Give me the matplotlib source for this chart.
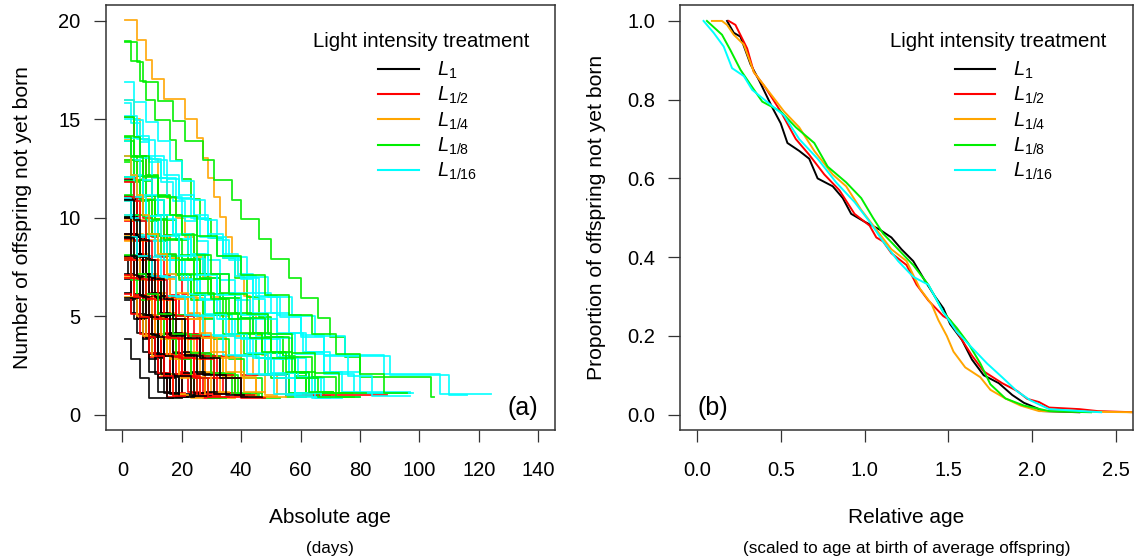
import numpy as np
import matplotlib
matplotlib.use("Agg")
import matplotlib.pyplot as plt

plt.rcParams['font.family'] = ['Liberation Sans', 'DejaVu Sans']
plt.rcParams['mathtext.fontset'] = 'custom'
plt.rcParams['mathtext.rm'] = 'Liberation Sans'
plt.rcParams['mathtext.it'] = 'Liberation Sans:italic'

# ---- data -------------------------------------------------------------
treatments = ['$L_{1}$', '$L_{1/2}$', '$L_{1/4}$', '$L_{1/8}$', '$L_{1/16}$']
colors = ['black', '#FF0000', '#FFA500', '#00EE00', '#00FFFF']
start_age = 1

# (a) ages (days) at each birth, one list per mother
births_L1 = [
    [3, 6, 9, 17],
    [3, 5, 7, 9, 12, 16],
    [4, 6, 8, 10, 13, 15, 19],
    [2, 4, 5, 7, 9, 11, 14, 18],
    [4, 5, 7, 9, 11, 13, 16, 19, 23],
    [3, 5, 6, 8, 10, 12, 14, 17, 20, 26],
    [5, 6, 8, 10, 11, 13, 15, 18, 21, 24, 29],
    [4, 5, 6, 8, 10, 11, 13, 15, 18, 20, 23, 27],
    [3, 5, 8, 11, 14, 18, 22],
    [4, 7, 9, 12, 15, 20],
    [5, 7, 10, 13, 16, 20, 23, 28, 32],
    [3, 4, 6, 7, 9, 12, 14, 17, 20, 24, 30],
    [4, 6, 7, 9, 11, 14, 16, 19],
    [5, 8, 10, 13, 15, 18, 21, 25, 31, 36],
    [3, 6, 8, 11, 13, 16, 21, 27, 35, 41],
    [4, 5, 7, 9, 12, 14, 17, 23, 30],
    [6, 9, 12, 14, 19, 24],
    [3, 5, 6, 8, 10, 12, 13, 16, 19],
    [4, 6, 9, 11, 14, 17, 21, 26, 33, 40, 47],
]
births_L2 = [
    [4, 6, 8, 10, 12, 14, 16, 18, 20, 22, 24, 27, 30, 34, 38],
    [4, 7, 9, 11, 14, 16, 19, 22, 25, 28, 32, 37],
    [3, 5, 8, 10, 13, 15, 18, 21, 24, 29],
    [5, 7, 10, 12, 15, 18, 22, 26, 30, 40, 55, 89],
    [4, 6, 9, 11, 13, 16, 20, 24],
    [3, 5, 7, 9, 12, 15, 19],
    [6, 8, 11, 14, 17, 21, 25, 31, 42],
    [4, 6, 8, 11, 13, 17, 20, 23, 27, 33],
    [5, 7, 9, 12, 14, 17, 19, 22, 26],
    [3, 6, 9, 12, 16, 21],
    [4, 8, 10, 13, 18, 23, 28],
    [5, 6, 8, 10, 12, 14, 17, 20, 24, 28, 35],
    [4, 7, 10, 14, 18, 22, 27, 32, 38, 45],
    [6, 9, 13, 16, 20, 26, 33],
    [3, 5, 7, 10, 13, 16, 20, 25, 30],
    [5, 8, 11, 15, 19, 24, 29, 36],
    [4, 6, 8, 10, 12, 15, 18, 22, 26, 31, 40, 48],
    [3, 4, 6, 9, 11, 14, 17, 21],
]
births_L4 = [
    [5, 8, 10, 14, 21, 25, 27, 29, 31, 33, 35, 37, 39, 41, 43, 45, 47, 49, 52, 56],
    [4, 6, 9, 12, 15, 18, 21, 24, 27, 30, 33, 36, 40, 44, 48, 52],
    [3, 6, 8, 11, 13, 16, 19, 22, 25, 28, 31, 34, 38, 42],
    [5, 7, 10, 13, 16, 19, 23, 27, 31, 35, 40, 45, 50],
    [4, 6, 9, 12, 15, 18, 22, 26, 30, 34, 40, 55],
    [3, 5, 8, 10, 13, 16, 20, 24, 28, 33, 38],
    [4, 7, 9, 12, 15, 18, 22, 26, 31, 36],
    [5, 8, 11, 14, 17, 21, 25, 30, 35],
    [3, 6, 9, 12, 15, 19, 24, 29],
    [4, 6, 8, 11, 14, 17, 21],
    [5, 7, 10, 13, 17, 22],
    [4, 7, 11, 15, 20, 26, 33],
    [3, 5, 8, 11, 14, 18, 23, 28, 34],
    [6, 9, 12, 16, 21, 27, 32, 38, 45, 52],
    [4, 6, 8, 10, 13, 16, 19, 23, 27],
    [3, 5, 7, 9, 12, 15, 18, 22, 26, 30, 35, 41, 48],
]
births_L8 = [
    [3, 6, 8, 11, 16, 18, 20, 23, 26, 30, 34, 38, 42, 46, 50, 54, 58, 62, 70],
    [5, 7, 12, 17, 21, 27, 31, 37, 40, 46, 50, 56, 60, 66, 70, 75, 80, 104, 105],
    [4, 7, 10, 14, 18, 22, 26, 30, 35, 40, 45, 50, 55, 62],
    [3, 6, 9, 12, 15, 19, 23, 27, 31, 36, 41, 47, 53],
    [4, 8, 12, 16, 20, 24, 28, 33, 38, 44, 50, 57, 65, 71],
    [5, 8, 11, 15, 19, 24, 29, 34, 40, 47, 54, 62, 97],
    [3, 7, 10, 14, 18, 23, 28, 34, 41, 48, 56, 94],
    [4, 6, 9, 13, 17, 21, 26, 31, 37, 43],
    [5, 9, 13, 17, 22, 27, 33, 39, 46],
    [3, 5, 8, 12, 16, 20, 25, 31],
    [4, 7, 11, 15, 20, 26, 33, 40, 48, 56, 64, 72, 80],
    [6, 10, 14, 19, 24, 30, 36, 43, 50, 58, 66, 78],
    [3, 6, 10, 14, 18, 23, 29, 35],
    [4, 8, 13, 18, 24, 31, 39, 47, 55, 63, 71],
    [5, 8, 12, 17, 23, 30, 38, 47],
    [3, 7, 12, 18, 25, 32, 40, 48, 56, 64, 72, 80, 88, 96],
    [4, 6, 9, 12, 16, 20, 25, 30, 36, 42, 49, 57, 65, 73, 82],
]
births_L16 = [
    [4, 8, 12, 16, 20, 24, 28, 32, 36, 40, 44, 48, 52, 57, 62, 68, 80],
    [3, 6, 9, 13, 17, 21, 25, 29, 33, 38, 43, 48, 53, 58, 64, 70],
    [5, 9, 14, 19, 24, 29, 34, 39, 44, 50, 56, 62, 68, 74, 80],
    [4, 8, 12, 17, 22, 27, 32, 38, 44, 50, 56, 63, 70],
    [3, 7, 11, 15, 20, 25, 31, 37, 43, 49, 56, 63],
    [6, 10, 15, 20, 26, 32, 38, 45, 52, 60, 68, 88, 107, 124],
    [5, 9, 13, 18, 23, 29, 35, 42, 49, 57, 65, 75, 90, 110, 116],
    [4, 7, 11, 15, 19, 24, 29, 34, 40, 46, 53, 60, 68, 76, 84, 97],
    [3, 6, 10, 14, 18, 23, 28, 33, 39, 45, 52, 59, 67, 75],
    [5, 8, 12, 16, 21, 26, 32, 38, 44, 51, 58, 66],
    [4, 9, 14, 20, 26, 33, 40, 48, 56, 65, 74],
    [3, 7, 12, 17, 23, 29, 36, 44, 52, 61, 70, 80, 97],
    [6, 11, 16, 22, 28, 35, 42, 50, 58, 67],
    [4, 8, 13, 19, 25, 32, 40, 49, 58, 68, 78, 98],
    [5, 10, 15, 21, 27, 34, 42, 51, 60],
    [3, 6, 9, 13, 18, 24, 31, 38, 46, 55, 64],
]

# (b) pooled proportion not yet born vs relative age
rel_x_L1 = [0.18, 0.22, 0.26, 0.32, 0.37, 0.45, 0.50, 0.54, 0.61, 0.67, 0.72, 0.81, 0.87,
            0.92, 1.00, 1.09, 1.16, 1.22, 1.29, 1.36, 1.42, 1.47, 1.51, 1.58, 1.64, 1.71,
            1.80, 1.88, 1.95, 2.04, 2.06, 2.28]
rel_y_L1 = [1.00, 0.97, 0.96, 0.89, 0.85, 0.78, 0.74, 0.69, 0.67, 0.65, 0.60, 0.58, 0.55,
            0.51, 0.49, 0.47, 0.45, 0.42, 0.39, 0.34, 0.30, 0.27, 0.23, 0.19, 0.14, 0.10,
            0.08, 0.05, 0.03, 0.014, 0.009, 0.006]
rel_x_L2 = [0.19, 0.23, 0.30, 0.34, 0.41, 0.50, 0.59, 0.67, 0.76, 0.85, 0.94, 1.03, 1.07,
            1.11, 1.16, 1.25, 1.31, 1.38, 1.47, 1.51, 1.58, 1.64, 1.71, 1.82, 1.91, 1.97,
            2.04, 2.10, 2.28, 2.39, 2.61]
rel_y_L2 = [1.00, 0.99, 0.93, 0.87, 0.83, 0.77, 0.70, 0.66, 0.61, 0.57, 0.51, 0.48, 0.45,
            0.44, 0.41, 0.38, 0.33, 0.29, 0.25, 0.24, 0.19, 0.15, 0.11, 0.08, 0.06, 0.04,
            0.032, 0.018, 0.014, 0.009, 0.006]
rel_x_L4 = [0.09, 0.15, 0.18, 0.22, 0.28, 0.34, 0.43, 0.52, 0.61, 0.70, 0.81, 0.89, 0.98,
            1.07, 1.16, 1.25, 1.33, 1.40, 1.44, 1.49, 1.53, 1.60, 1.69, 1.75, 1.84, 1.93,
            2.04, 2.61]
rel_y_L4 = [1.00, 1.00, 0.99, 0.965, 0.94, 0.87, 0.82, 0.77, 0.73, 0.67, 0.61, 0.58, 0.52,
            0.47, 0.42, 0.39, 0.32, 0.28, 0.24, 0.20, 0.16, 0.12, 0.095, 0.063, 0.041, 0.023,
            0.009, 0.006]
rel_x_L8 = [0.06, 0.15, 0.20, 0.26, 0.32, 0.39, 0.50, 0.59, 0.70, 0.78, 0.89, 0.98,
            1.05, 1.11, 1.20, 1.29, 1.38, 1.47, 1.55, 1.62, 1.69, 1.75, 1.84, 1.95, 2.10,
            2.35]
rel_y_L8 = [1.00, 0.965, 0.926, 0.876, 0.838, 0.795, 0.77, 0.73, 0.69, 0.63, 0.59, 0.55,
            0.50, 0.46, 0.42, 0.38, 0.33, 0.26, 0.22, 0.18, 0.13, 0.077, 0.041, 0.023, 0.009,
            0.006]
rel_x_L16 = [0.04, 0.10, 0.16, 0.21, 0.28, 0.33, 0.44, 0.52, 0.61, 0.72, 0.83, 0.94, 1.03,
             1.11, 1.20, 1.29, 1.38, 1.47, 1.55, 1.64, 1.73, 1.82, 1.91, 1.99, 2.10, 2.41]
rel_y_L16 = [1.00, 0.97, 0.935, 0.88, 0.86, 0.825, 0.787, 0.76, 0.70, 0.65, 0.59, 0.54,
             0.49, 0.44, 0.39, 0.35, 0.33, 0.26, 0.21, 0.17, 0.13, 0.095, 0.059, 0.036,
             0.014, 0.006]

births = [births_L1, births_L2, births_L4, births_L8, births_L16]
rel_x = [rel_x_L1, rel_x_L2, rel_x_L4, rel_x_L8, rel_x_L16]
rel_y = [rel_y_L1, rel_y_L2, rel_y_L4, rel_y_L8, rel_y_L16]

# ---- figure ------------------------------------------------------------
FS = 14.5
fig = plt.figure(figsize=(11.34, 5.58), dpi=100)
ax_a = fig.add_axes([0.0932, 0.2287, 0.396, 0.762])
ax_b = fig.add_axes([0.5997, 0.2287, 0.3994, 0.762])


def style_axes(ax):
    for s in ax.spines.values():
        s.set_linewidth(1.1)
        s.set_color('#333333')
    ax.tick_params(direction='out', length=8.6, width=0.9, color='#333333',
                   labelsize=FS, top=False, right=False)
    ax.tick_params(axis='x', pad=13.3)
    ax.tick_params(axis='y', pad=9.4)


def add_legend(ax):
    ax.text(0.703, 0.914, 'Light intensity treatment', transform=ax.transAxes,
            ha='center', va='center', fontsize=14.7)
    handles = [ax.plot([], [], color=c, lw=1.5)[0] for c in colors]
    ax.legend(handles, treatments, fontsize=FS, frameon=False, loc='upper left',
              bbox_to_anchor=(0.607, 0.872), borderaxespad=0, borderpad=0,
              handlelength=2.0, handletextpad=0.9, labelspacing=0.2)


# (a) individual step curves, interleaved by treatment
n_max = max(len(b) for b in births)
k = 0
for i in range(n_max):
    for t in range(5):
        if i >= len(births[t]):
            continue
        d = births[t][i]
        n = len(d)
        jit = ((k * 7) % 9 - 4) * 0.04
        k += 1
        xs = [start_age] + d
        ys = [n - j + jit for j in range(n)] + [1 + jit]
        ax_a.step(xs, ys, where='post', color=colors[t], lw=1.3, alpha=0.9)

ax_a.set_xlim(-5.6, 145.6)
ax_a.set_ylim(-0.8, 20.8)
ax_a.set_xticks(np.arange(0, 141, 20))
ax_a.set_yticks(np.arange(0, 21, 5))
style_axes(ax_a)
ax_a.set_ylabel('Number of offspring not yet born', fontsize=15.2, labelpad=19)
ax_a.text(0.5, -0.205, 'Absolute age', transform=ax_a.transAxes, ha='center',
          va='center', fontsize=15)
ax_a.text(0.5, -0.277, '(days)', transform=ax_a.transAxes, ha='center',
          va='center', fontsize=12.3)
ax_a.text(0.929, 0.053, '(a)', transform=ax_a.transAxes, ha='center',
          va='center', fontsize=18)
add_legend(ax_a)

# (b) pooled curves
for t in range(5):
    ax_b.plot(rel_x[t], rel_y[t], color=colors[t], lw=1.4)

ax_b.set_xlim(-0.1, 2.6)
ax_b.set_ylim(-0.04, 1.04)
ax_b.set_xticks(np.arange(0, 2.51, 0.5))
ax_b.set_yticks(np.arange(0, 1.01, 0.2))
ax_b.set_xticklabels([f'{v:.1f}' for v in np.arange(0, 2.51, 0.5)])
ax_b.set_yticklabels([f'{v:.1f}' for v in np.arange(0, 1.01, 0.2)])
style_axes(ax_b)
ax_b.set_ylabel('Proportion of offspring not yet born', fontsize=15.2, labelpad=15.5)
ax_b.text(0.5, -0.205, 'Relative age', transform=ax_b.transAxes, ha='center',
          va='center', fontsize=15)
ax_b.text(0.5, -0.277, '(scaled to age at birth of average offspring)',
          transform=ax_b.transAxes, ha='center', va='center', fontsize=12.3)
ax_b.text(0.0715, 0.052, '(b)', transform=ax_b.transAxes, ha='center',
          va='center', fontsize=18)
add_legend(ax_b)

fig.savefig('out.png', dpi=100)
